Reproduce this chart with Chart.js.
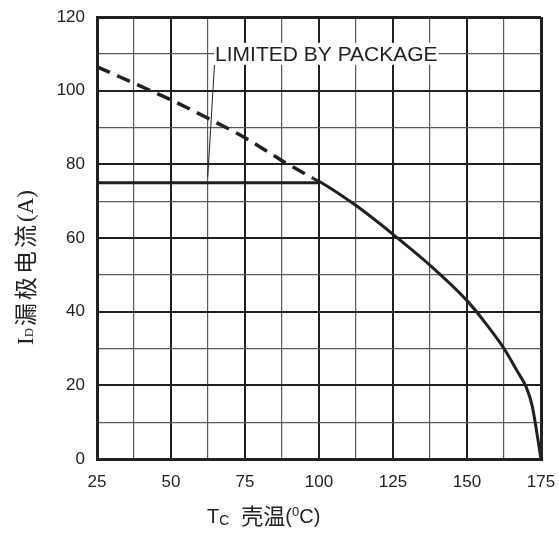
<!DOCTYPE html>
<html>
<head>
<meta charset="utf-8">
<script src="https://cdn.jsdelivr.net/npm/chart.js@4.4.1/dist/chart.umd.min.js"></script>
<style>
  html, body { margin: 0; padding: 0; background: #fff; }
  #wrap { width: 559px; height: 533px; }
</style>
</head>
<body>
<div id="wrap"><canvas id="derateChart" width="559" height="533"></canvas></div>
<script>
// case temperature (°C) vs drain current (A)
const dashTemp = [25, 37.5, 50, 62.5, 75, 87.5, 98];
const dashCurrent = [106.5, 102, 97.5, 92.5, 87.2, 81, 76.2];
const solidTemp = [98, 100, 112.5, 125, 137.5, 150, 156.25, 162.5, 167, 170, 172, 175];
const solidCurrent = [76.2, 75.4, 68.8, 61, 52.6, 43, 36.9, 30, 23.8, 19.5, 14.5, 0];
const pkgTemp = [25, 100];
const pkgCurrent = [75, 75];
const leaderTemp = [64.7, 62.4];
const leaderCurrent = [107, 76.5];
const xTicks = [25, 50, 75, 100, 125, 150, 175];
const yTicks = [0, 20, 40, 60, 80, 100, 120];
const noteText = "LIMITED BY PACKAGE";

const ink = "#231f20";
const toPts = (xs, ys) => xs.map((x, i) => ({ x: x, y: ys[i] }));

function gridStyle(majors, edges) {
  return {
    color: ctx => majors.includes(ctx.tick.value) ? ink : "#5a5a5a",
    lineWidth: ctx => edges.includes(ctx.tick.value) ? 3 : (majors.includes(ctx.tick.value) ? 2 : 1.2),
    drawTicks: false
  };
}

function noPad(s) {
  s.paddingTop = 0; s.paddingBottom = 0; s.paddingLeft = 0; s.paddingRight = 0;
}

const titlePlugin = {
  id: "titles",
  afterDatasetsDraw(chart) {
    const c = chart.ctx;
    const xs = chart.scales.x, ys = chart.scales.y;
    // annotation text with white box over grid line
    c.save();
    c.font = "21px 'Liberation Sans', Arial, sans-serif";
    c.textBaseline = "middle";
    const tx = xs.getPixelForValue(64.9);
    const ty = ys.getPixelForValue(110);
    const w = c.measureText(noteText).width;
    c.fillStyle = "#fff";
    c.fillRect(tx - 1, ty - 11, w + 2, 22);
    c.fillStyle = ink;
    c.fillText(noteText, tx, ty + 1);
    c.restore();
  },
  afterDraw(chart) {
    const c = chart.ctx;
    c.save();
    c.fillStyle = "#222";
    c.textBaseline = "alphabetic";
    // x title: T_C 壳温(⁰C)
    let x = 207, y = 523;
    c.font = "20px 'Liberation Sans', Arial, sans-serif";
    c.fillText("T", x, y); x += c.measureText("T").width;
    c.font = "14px 'Liberation Sans', Arial, sans-serif";
    c.fillText("C", x, y + 2); x += c.measureText("C").width + 12;
    c.font = "22px 'Noto Sans CJK SC', sans-serif";
    c.fillText("壳温", x, y + 1); x += c.measureText("壳温").width;
    c.font = "20px 'Liberation Sans', Arial, sans-serif";
    c.fillText("(", x, y); x += c.measureText("(").width;
    c.font = "13px 'Liberation Sans', Arial, sans-serif";
    c.fillText("0", x, y - 7); x += c.measureText("0").width;
    c.font = "20px 'Liberation Sans', Arial, sans-serif";
    c.fillText("C)", x, y);

    // y title, rotated
    c.translate(34, 345);
    c.rotate(-Math.PI / 2);
    let p = 0;
    c.font = "23px 'Liberation Serif', serif";
    c.fillText("I", p, -1); p += c.measureText("I").width;
    c.font = "13px 'Liberation Serif', serif";
    c.fillText("D", p, -1); p += c.measureText("D").width + 2;
    c.font = "23px 'Noto Sans CJK SC', serif";
    for (const ch of "漏极电流") {
      c.fillText(ch, p, 0); p += c.measureText(ch).width + 3;
    }
    c.font = "23px 'Liberation Serif', serif";
    c.fillText("(A)", p, -1);
    c.restore();
  }
};

const ctxDerate = document.getElementById("derateChart").getContext("2d");
const derateChart = new Chart(ctxDerate, {
  type: "scatter",
  data: {
    datasets: [
      {
        label: "dashed",
        data: toPts(dashTemp, dashCurrent),
        showLine: true,
        borderColor: ink,
        borderWidth: 3.5,
        borderDash: [14, 8],
        cubicInterpolationMode: "monotone",
        pointRadius: 0
      },
      {
        label: "solid",
        data: toPts(solidTemp, solidCurrent),
        showLine: true,
        borderColor: ink,
        borderWidth: 3,
        cubicInterpolationMode: "monotone",
        pointRadius: 0
      },
      {
        label: "package",
        data: toPts(pkgTemp, pkgCurrent),
        showLine: true,
        borderColor: ink,
        borderWidth: 3,
        pointRadius: 0
      },
      {
        label: "leader",
        data: toPts(leaderTemp, leaderCurrent),
        showLine: true,
        borderColor: ink,
        borderWidth: 1,
        pointRadius: 0
      }
    ]
  },
  options: {
    responsive: false,
    animation: false,
    layout: { padding: { top: 17, right: 18, left: 0, bottom: 0 } },
    plugins: { legend: { display: false }, tooltip: { enabled: false } },
    scales: {
      x: {
        type: "linear",
        min: 25,
        max: 175,
        afterFit: s => { s.height = 74; noPad(s); },
        ticks: {
          stepSize: 12.5,
          padding: 13,
          color: "#222",
          font: { family: "'Liberation Sans', Arial, sans-serif", size: 17 },
          callback: v => xTicks.includes(v) ? v : ""
        },
        grid: gridStyle(xTicks, [25, 175]),
        border: { display: true, color: ink, width: 3 }
      },
      y: {
        type: "linear",
        min: 0,
        max: 120,
        afterFit: s => { s.width = 97; noPad(s); },
        ticks: {
          stepSize: 10,
          padding: 12,
          color: "#222",
          font: { family: "'Liberation Sans', Arial, sans-serif", size: 17 },
          callback: v => yTicks.includes(v) ? v : ""
        },
        grid: gridStyle(yTicks, [0, 120]),
        border: { display: true, color: ink, width: 3 }
      }
    }
  },
  plugins: [titlePlugin]
});
</script>
</body>
</html>
